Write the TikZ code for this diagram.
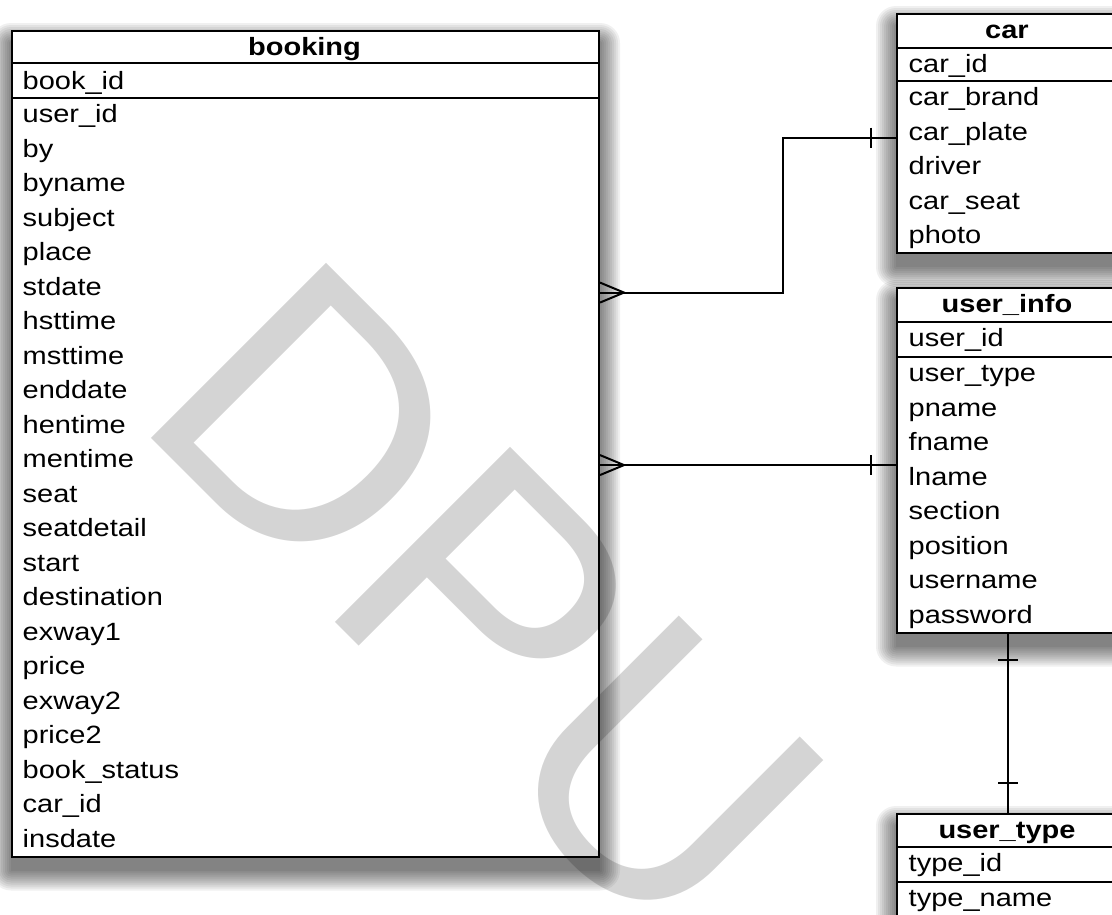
\documentclass[tikz,border=0pt]{standalone}
\usepackage{fontspec}
\setmainfont[FakeStretch=1.16]{Liberation Sans}
\newfontfamily\wmfont{Liberation Sans}
\usetikzlibrary{calc}
\pgfdeclarelayer{shadowlayer}
\pgfsetlayers{shadowlayer,main}
\newcommand\tblshadow[1]{%
  \begin{pgfonlayer}{shadowlayer}
    \foreach \k in {0,2,...,20}
      \fill[black, fill opacity=0.06, rounded corners=\k pt]
        ($(#1.north west)+(-\k,13-\k)$) rectangle ($(#1.south east)+(\k,13+\k)$);
  \end{pgfonlayer}}
\begin{document}
\begin{tikzpicture}[x=1pt,y=-1pt,
  tbl/.style={draw=black, line width=2pt, fill=white, inner sep=0pt, anchor=north west},
  fld/.style={anchor=base west, inner sep=0pt, font=\fontsize{25}{30}\selectfont},
  ttl/.style={anchor=base, inner sep=0pt, font=\fontsize{25}{30}\selectfont\bfseries},
  sepline/.style={line width=2pt},
  conn/.style={line width=2pt}]
\useasboundingbox (0,0) rectangle (1112,914);
\clip (0,0) rectangle (1112,914);

% ---------------- booking ----------------
\node[tbl, minimum width=587pt, minimum height=825.5pt] (booking) at (11,30) {};
\tblshadow{booking}
\node[ttl] (b-title) at (304.5,55) {booking};
\draw[sepline] (booking.west |- 0,63) -- (booking.east |- 0,63);
\node[fld] (b-key) at (22.5,89.3) {book\_id};
\draw[sepline] (booking.west |- 0,98) -- (booking.east |- 0,98);
\foreach \f [count=\i] in {user\_id,by,byname,subject,place,stdate,hsttime,msttime,enddate,hentime,mentime,seat,seatdetail,start,destination,exway1,price,exway2,price2,book\_status,car\_id,insdate}
  \node[fld] (b-\i) at (22.5,{122.7+34.5*(\i-1)}) {\f};

% ---------------- car ----------------
\node[tbl, minimum width=222pt, minimum height=239pt] (car) at (896,13) {};
\tblshadow{car}
\node[ttl] (c-title) at (1007,38) {car};
\draw[sepline] (car.west |- 0,48) -- (car.east |- 0,48);
\node[fld] (c-key) at (908.5,72.7) {car\_id};
\draw[sepline] (car.west |- 0,81) -- (car.east |- 0,81);
\foreach \f [count=\i] in {car\_brand,car\_plate,driver,car\_seat,photo}
  \node[fld] (c-\i) at (908.5,{105.7+34.5*(\i-1)}) {\f};

% ---------------- user_info ----------------
\node[tbl, minimum width=222pt, minimum height=344.5pt] (uinfo) at (896,287) {};
\tblshadow{uinfo}
\node[ttl] (u-title) at (1007,312) {user\_info};
\draw[sepline] (uinfo.west |- 0,322) -- (uinfo.east |- 0,322);
\node[fld] (u-key) at (908.5,346.7) {user\_id};
\draw[sepline] (uinfo.west |- 0,357) -- (uinfo.east |- 0,357);
\foreach \f [count=\i] in {user\_type,pname,fname,lname,section,position,username,password}
  \node[fld] (u-\i) at (908.5,{381.7+34.5*(\i-1)}) {\f};

% ---------------- user_type ----------------
\node[tbl, minimum width=222pt, minimum height=150pt] (utype) at (896,813) {};
\tblshadow{utype}
\node[ttl] (t-title) at (1007,838) {user\_type};
\draw[sepline] (utype.west |- 0,847) -- (utype.east |- 0,847);
\node[fld] (t-key) at (908.5,871.7) {type\_id};
\draw[sepline] (utype.west |- 0,882) -- (utype.east |- 0,882);
\node[fld] (t-1) at (908.5,906.7) {type\_name};

% ---------------- connectors ----------------
\coordinate (jog) at (783,0);
% booking (stdate) -- car (car_plate)
\draw[conn] (booking.east |- b-6.mid) -| (jog |- c-2.mid) -- (car.west |- c-2.mid);
\draw[conn] ($(booking.east |- b-6.mid)+(0,-10)$) -- ($(booking.east |- b-6.mid)+(24,0)$) -- ($(booking.east |- b-6.mid)+(0,10)$);
\draw[conn] ($(car.west |- c-2.mid)+(-25,-10)$) -- ++(0,20);
% booking (mentime) -- user_info
\draw[conn] (booking.east |- b-11.mid) -- (uinfo.west |- b-11.mid);
\draw[conn] ($(booking.east |- b-11.mid)+(0,-10)$) -- ($(booking.east |- b-11.mid)+(24,0)$) -- ($(booking.east |- b-11.mid)+(0,10)$);
\draw[conn] ($(uinfo.west |- b-11.mid)+(-25,-10)$) -- ++(0,20);
% user_info -- user_type
\draw[conn] (uinfo.south) -- (utype.north);
\draw[conn] ($(uinfo.south)+(-10,26)$) -- ++(20,0);
\draw[conn] ($(utype.north)+(-10,-30)$) -- ++(20,0);

% ---------------- watermark ----------------
\node[rotate=-45, anchor=base west, inner sep=0pt, text=black, text opacity=0.17,
  font=\wmfont\fontsize{360}{360}\selectfont] (wm) at (130.4,417.4) {DPU};
\end{tikzpicture}
\end{document}
